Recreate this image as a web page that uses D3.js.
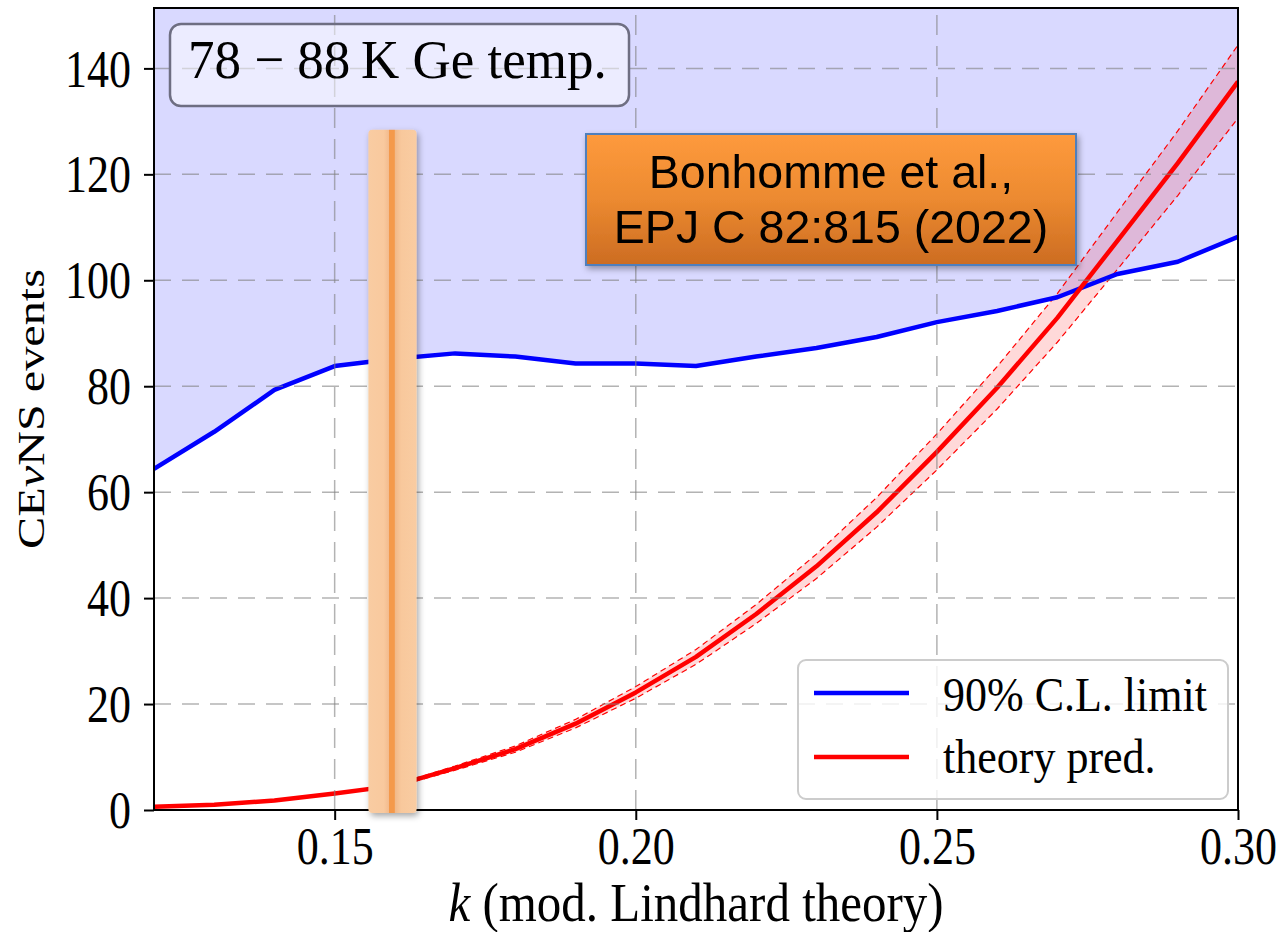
<!DOCTYPE html>
<html>
<head>
<meta charset="utf-8">
<script src="https://cdn.jsdelivr.net/npm/d3@7"></script>
<style>
  body { margin: 0; background: #fff; }
  svg { display: block; }
</style>
</head>
<body>
<svg id="chart" width="1280" height="932"></svg>
<script>
// k parameter of the modified Lindhard model
const kValues = [0.12, 0.13, 0.14, 0.15, 0.16, 0.17, 0.18, 0.19, 0.20, 0.21,
                 0.22, 0.23, 0.24, 0.25, 0.26, 0.27, 0.28, 0.29, 0.30];
// 90% C.L. upper limit on CEvNS events
const limitEvents = [64.4, 71.4, 79.3, 83.8, 85.2, 86.2, 85.6, 84.3, 84.3, 83.8,
                     85.6, 87.2, 89.3, 92.1, 94.2, 96.8, 101.2, 103.5, 108.2];
// theory prediction (central value)
const theoryEvents = [0.6, 1.0, 1.8, 3.1, 4.6, 7.9, 11.5, 16.3, 22.2, 28.9,
                      37.0, 46.0, 56.2, 67.6, 79.7, 92.9, 107.5, 122.1, 137.5];
// uncertainty band of the prediction, from k = 0.16 on
const bandK = [0.16, 0.17, 0.18, 0.19, 0.20, 0.21, 0.22, 0.23, 0.24, 0.25,
               0.26, 0.27, 0.28, 0.29, 0.30];
const theoryUpper = [4.8, 8.3, 12.1, 17.1, 23.3, 30.3, 38.8, 48.3, 59.0, 71.0,
                     83.7, 97.5, 112.9, 128.2, 144.4];
const theoryLower = [4.4, 7.5, 10.9, 15.5, 21.1, 27.5, 35.2, 43.7, 53.4, 64.2,
                     75.7, 88.3, 102.1, 116.0, 130.6];
// measured k (Bonhomme et al.) with its uncertainty
const measuredK = 0.1596;
const measuredKErr = 0.004;
const measuredTop = 128.4;

const xTicks = [0.15, 0.20, 0.25, 0.30];
const yTicks = [0, 20, 40, 60, 80, 100, 120, 140];
const xDomain = [0.12, 0.30];
const yDomain = [0, 151.4];

const serif = "'Liberation Serif','Times New Roman',serif";
const sans = "'Liberation Sans',Arial,sans-serif";

const svg = d3.select("#chart");
const margin = { left: 154, right: 42, top: 8, bottom: 122 };
const W = 1280, H = 932;
const x = d3.scaleLinear().domain(xDomain).range([margin.left, W - margin.right]);
const y = d3.scaleLinear().domain(yDomain).range([H - margin.bottom, margin.top]);
const x0 = x.range()[0], x1 = x.range()[1], yb = y.range()[0], yt = y.range()[1];

const defs = svg.append("defs");
defs.append("clipPath").attr("id", "plot-clip")
  .append("rect").attr("x", x0).attr("y", yt).attr("width", x1 - x0).attr("height", yb - yt);

const shadow = defs.append("filter").attr("id", "shadow")
  .attr("x", "-30%").attr("y", "-10%").attr("width", "160%").attr("height", "130%");
shadow.append("feDropShadow").attr("dx", 2).attr("dy", 3).attr("stdDeviation", 3)
  .attr("flood-color", "#000").attr("flood-opacity", 0.35);

const boxGrad = defs.append("linearGradient").attr("id", "box-grad")
  .attr("x1", 0).attr("y1", 0).attr("x2", 0).attr("y2", 1);
boxGrad.append("stop").attr("offset", "0%").attr("stop-color", "#fe9a3d");
boxGrad.append("stop").attr("offset", "50%").attr("stop-color", "#ec8a30");
boxGrad.append("stop").attr("offset", "100%").attr("stop-color", "#cc6c22");

const barGrad = defs.append("linearGradient").attr("id", "bar-grad")
  .attr("x1", 0).attr("y1", 0).attr("x2", 1).attr("y2", 0);
[["0%", "#f9cca2"], ["32%", "#f9c99e"], ["42%", "#f3bc8f"], ["43%", "#f4994b"],
 ["54%", "#f4994b"], ["55%", "#f0b889"], ["68%", "#f8c89c"], ["100%", "#f9cca2"]]
  .forEach(([o, c]) => barGrad.append("stop").attr("offset", o).attr("stop-color", c));

const plot = svg.append("g").attr("clip-path", "url(#plot-clip)");

// excluded region above the limit
const limitArea = d3.area()
  .x((d, i) => x(kValues[i]))
  .y0(yt)
  .y1((d) => y(d));
plot.append("path").datum(limitEvents)
  .attr("d", limitArea)
  .attr("fill", "rgba(0,0,255,0.15)");

// prediction uncertainty band
const band = d3.area()
  .x((d, i) => x(bandK[i]))
  .y0((d, i) => y(theoryLower[i]))
  .y1((d) => y(d));
plot.append("path").datum(theoryUpper)
  .attr("d", band)
  .attr("fill", "rgba(255,0,0,0.15)");

// grid
const grid = svg.append("g");
grid.selectAll(".gy").data(yTicks).join("line")
  .attr("x1", x0).attr("x2", x1)
  .attr("y1", (d) => y(d)).attr("y2", (d) => y(d))
  .attr("stroke", "rgba(128,128,128,0.6)").attr("stroke-width", 1.5)
  .attr("stroke-dasharray", "17,11");
grid.selectAll(".gx").data(xTicks).join("line")
  .attr("x1", (d) => x(d)).attr("x2", (d) => x(d))
  .attr("y1", yb).attr("y2", yt)
  .attr("stroke", "rgba(128,128,128,0.6)").attr("stroke-width", 1.5)
  .attr("stroke-dasharray", "20,11");

const lineGen = (xs) => d3.line().x((d, i) => x(xs[i])).y((d) => y(d));

// band edges
[theoryUpper, theoryLower].forEach((arr) => {
  plot.append("path").datum(arr)
    .attr("d", lineGen(bandK))
    .attr("fill", "none").attr("stroke", "#ff0000").attr("stroke-width", 1.2)
    .attr("stroke-dasharray", "6,4");
});

// limit line and prediction
plot.append("path").datum(limitEvents)
  .attr("d", lineGen(kValues))
  .attr("fill", "none").attr("stroke", "#0000ff").attr("stroke-width", 4.5)
  .attr("stroke-linejoin", "round");
plot.append("path").datum(theoryEvents)
  .attr("d", lineGen(kValues))
  .attr("fill", "none").attr("stroke", "#ff0000").attr("stroke-width", 4.5)
  .attr("stroke-linejoin", "round");

// axes
const xAxis = svg.append("g").attr("transform", `translate(0,${yb})`)
  .call(d3.axisBottom(x).tickValues(xTicks).tickFormat(d3.format(".2f")).tickSize(10).tickPadding(4));
const yAxis = svg.append("g").attr("transform", `translate(${x0},0)`)
  .call(d3.axisLeft(y).tickValues(yTicks).tickFormat(d3.format("d")).tickSize(10).tickPadding(13));
[xAxis, yAxis].forEach((g) => {
  g.select(".domain").remove();
  g.selectAll(".tick line").attr("stroke", "#000").attr("stroke-width", 2);
  g.selectAll(".tick text").attr("font-family", serif).attr("font-size", 44).attr("fill", "#000");
});
xAxis.selectAll(".tick text").attr("y", 0).attr("dy", 0)
  .attr("transform", "translate(0,53.5) scale(1,1.18)");
yAxis.selectAll(".tick text").attr("dy", "0.34em").attr("transform", "scale(1,1.18)");

// frame
svg.append("rect").attr("x", x0).attr("y", yt).attr("width", x1 - x0).attr("height", yb - yt)
  .attr("fill", "none").attr("stroke", "#000").attr("stroke-width", 2);

// measured k
svg.append("rect")
  .attr("x", x(measuredK - measuredKErr))
  .attr("width", x(measuredK + measuredKErr) - x(measuredK - measuredKErr))
  .attr("y", y(measuredTop))
  .attr("height", yb + 3 - y(measuredTop))
  .attr("rx", 4)
  .attr("fill", "url(#bar-grad)")
  .attr("filter", "url(#shadow)");

// reference box
const refBox = svg.append("g").attr("filter", "url(#shadow)");
refBox.append("rect").attr("x", 586).attr("y", 134).attr("width", 490).attr("height", 131)
  .attr("fill", "url(#box-grad)").attr("stroke", "#4f7fbd").attr("stroke-width", 2);
refBox.append("text").attr("x", 831).attr("y", 188).attr("text-anchor", "middle")
  .attr("font-family", sans).attr("font-size", 46.5).attr("fill", "#000")
  .text("Bonhomme et al.,");
refBox.append("text").attr("x", 831).attr("y", 243).attr("text-anchor", "middle")
  .attr("font-family", sans).attr("font-size", 46.5).attr("fill", "#000")
  .text("EPJ C 82:815 (2022)");

// temperature box
svg.append("rect").attr("x", 170).attr("y", 24).attr("width", 459).attr("height", 82)
  .attr("rx", 11).attr("fill", "rgba(255,255,255,0.5)")
  .attr("stroke", "#6e6e82").attr("stroke-width", 2.5);
svg.append("text").attr("transform", "translate(188,78) scale(1,1.04)")
  .attr("font-family", serif).attr("font-size", 53).attr("fill", "#000")
  .text("78 \u2212 88\u2009K Ge temp.");

// legend
const lg = svg.append("g");
lg.append("rect").attr("x", 798).attr("y", 660).attr("width", 430).attr("height", 139)
  .attr("rx", 8).attr("fill", "rgba(255,255,255,0.8)")
  .attr("stroke", "#cccccc").attr("stroke-width", 2);
const legendItems = [
  { label: "90% C.L. limit", color: "#0000ff", ly: 693, ty: 711 },
  { label: "theory pred.", color: "#ff0000", ly: 757, ty: 773 }
];
legendItems.forEach((it) => {
  lg.append("line").attr("x1", 814).attr("x2", 909).attr("y1", it.ly).attr("y2", it.ly)
    .attr("stroke", it.color).attr("stroke-width", 4.5);
  lg.append("text").attr("transform", `translate(943,${it.ty}) scale(1,1.1)`)
    .attr("font-family", serif).attr("font-size", 44).attr("fill", "#000")
    .text(it.label);
});

// axis labels
const xl = svg.append("text")
  .attr("transform", `translate(${(x0 + x1) / 2},921) scale(1,1.12)`)
  .attr("text-anchor", "middle").attr("font-family", serif).attr("font-size", 49).attr("fill", "#000");
xl.append("tspan").attr("font-style", "italic").text("k");
xl.append("tspan").text(" (mod. Lindhard theory)");

const yl = svg.append("text")
  .attr("transform", `translate(43.5,${(yt + yb) / 2}) rotate(-90) scale(1.27,1)`)
  .attr("text-anchor", "middle").attr("font-family", serif).attr("font-size", 38).attr("fill", "#000");
yl.append("tspan").text("CE");
yl.append("tspan").attr("font-style", "italic").text("\u03bd");
yl.append("tspan").text("NS events");
</script>
</body>
</html>
